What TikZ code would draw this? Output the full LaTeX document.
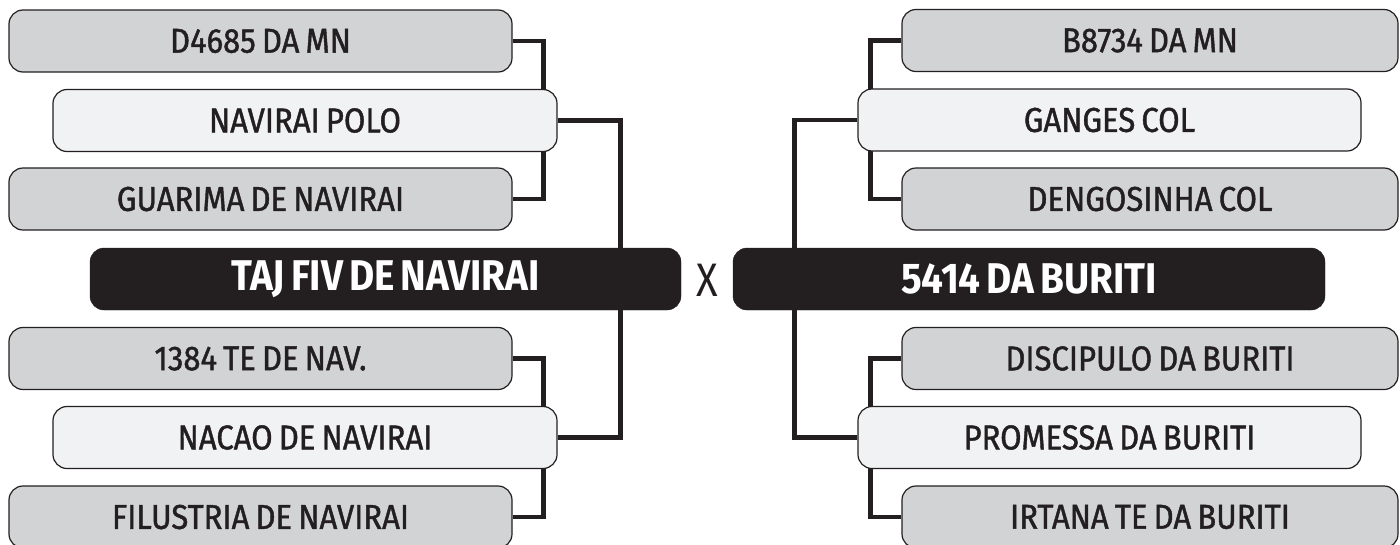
\documentclass[tikz,border=0pt]{standalone}
\usepackage{fontspec}
\setmainfont{Fira Sans}
\newfontfamily\labelfont{Fira Sans}[FakeStretch=0.9, FakeBold=1.2, WordSpace=0.75]
\newfontfamily\titlefont{Fira Sans}[FakeStretch=0.9, WordSpace=0.65]
\newfontfamily\vsfont{Fira Sans}[FakeStretch=0.85]
\usetikzlibrary{backgrounds}
\definecolor{ink}{HTML}{231F20}
\definecolor{outerfill}{HTML}{D1D3D4}
\definecolor{innerfill}{HTML}{F1F2F3}
\tikzset{
  box/.style={draw=ink, line width=1.2pt, rounded corners=14pt, minimum height=62pt,
    inner sep=0pt, font=\labelfont\fontsize{34.5}{34.5}\selectfont, text=ink},
  outerbox/.style={box, fill=outerfill, minimum width=503pt},
  innerbox/.style={box, fill=innerfill, minimum width=504pt},
  mainbox/.style={draw=ink, fill=ink, rounded corners=14pt, minimum height=62pt,
    minimum width=591pt, inner sep=0pt, text=white, font=\titlefont\fontsize{43}{43}\bfseries\selectfont},
  conn/.style={draw=ink, line width=4.5pt}
}
\begin{document}
\begin{tikzpicture}[x=1pt,y=-1pt]
\useasboundingbox (0,0) rectangle (1400,544);
% left side
\node[outerbox] (l1) at (260.5,41) {D4685 DA MN};
\node[innerbox] (l2) at (305,120.5) {NAVIRAI POLO};
\node[outerbox] (l3) at (260.5,199) {GUARIMA DE NAVIRAI};
\node[mainbox]  (lm) at (385.5,279) {TAJ FIV DE NAVIRAI};
\node[outerbox] (l5) at (260.5,358.5) {1384 TE DE NAV.};
\node[innerbox] (l6) at (305,437.5) {NACAO DE NAVIRAI};
\node[outerbox] (l7) at (260.5,517) {FILUSTRIA DE NAVIRAI};
% versus
\node[text=ink, font=\vsfont\fontsize{47}{47}\selectfont, inner sep=0pt] (vs) at (707,280) {X};
% right side
\node[outerbox, minimum width=496pt] (r1) at (1150,40.5) {B8734 DA MN};
\node[innerbox, minimum width=503pt] (r2) at (1109.5,120) {GANGES COL};
\node[outerbox, minimum width=496pt] (r3) at (1150,199) {DENGOSINHA COL};
\node[mainbox, minimum width=592pt] (rm) at (1029,279) {5414 DA BURITI};
\node[outerbox, minimum width=496pt] (r5) at (1150,358.5) {DISCIPULO DA BURITI};
\node[innerbox, minimum width=503pt] (r6) at (1109.5,437.5) {PROMESSA DA BURITI};
\node[outerbox, minimum width=496pt] (r7) at (1150,517) {IRTANA TE DA BURITI};
\begin{scope}[on background layer]
\draw[conn] (l1.east) -- ++(31,0) |- (l3.east);
\draw[conn] (l5.east) -- ++(31,0) |- (l7.east);
\draw[conn] (l2.east) -- ++(63,0) |- (l6.east);
\draw[conn] (r1.west) -- ++(-31,0) |- (r3.west);
\draw[conn] (r5.west) -- ++(-31,0) |- (r7.west);
\draw[conn] (r2.west) -- ++(-63,0) |- (r6.west);
\end{scope}
\end{tikzpicture}
\end{document}
